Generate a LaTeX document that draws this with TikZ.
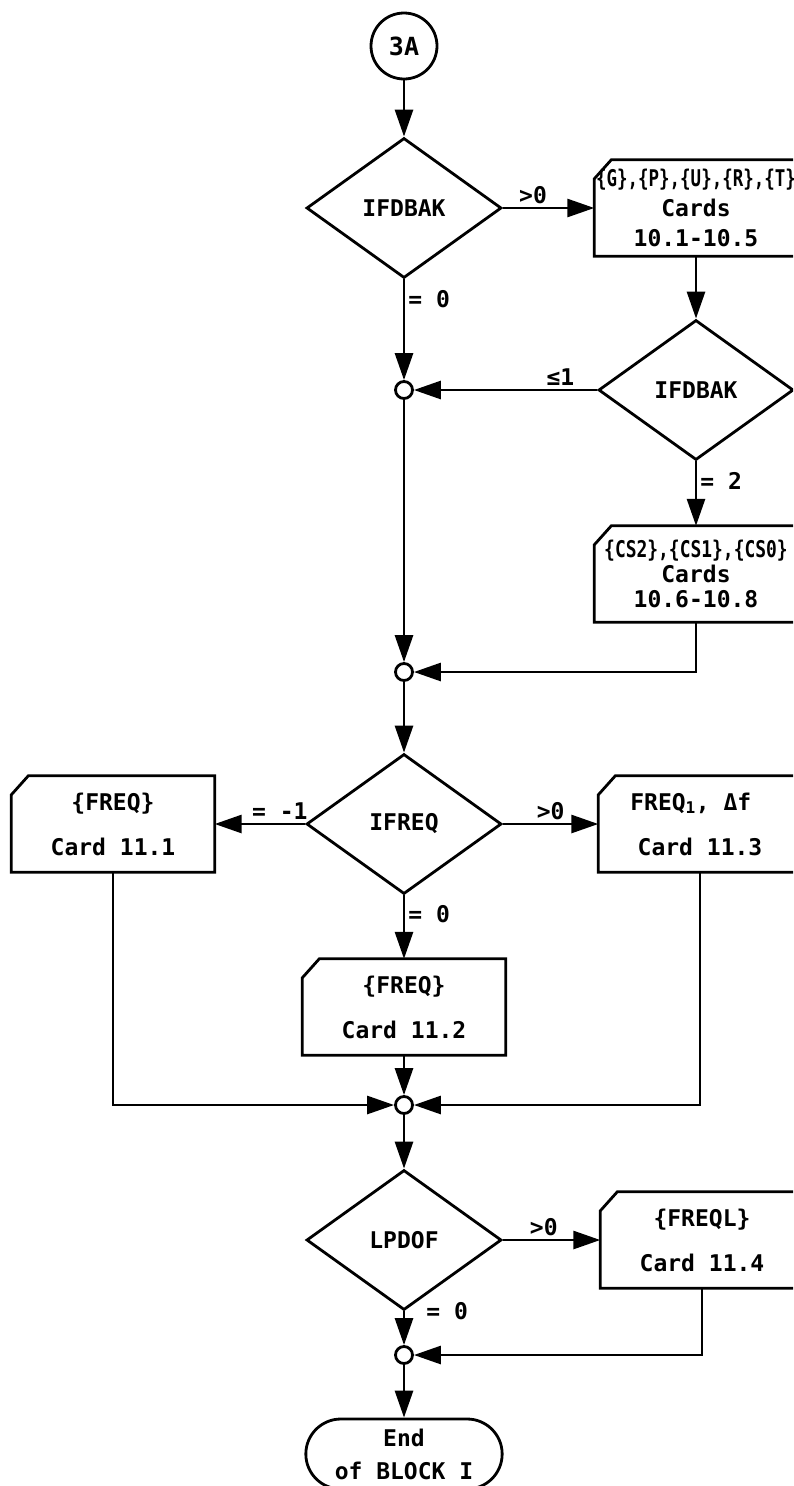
\documentclass[tikz,border=0pt]{standalone}
\usepackage{fontspec}
\usepackage{graphicx}
\setmainfont{DejaVu Sans Mono}
\usetikzlibrary{arrows.meta,shapes.geometric,shapes.misc}

\tikzset{
  wire/.style={line width=2.8pt},
  flow/.style={line width=2.8pt, -{Triangle[length=27pt,width=18pt]}},
  decision/.style={diamond, draw, line width=2.8pt, minimum width=195pt, minimum height=140pt, inner sep=1pt, font=\fontsize{23}{28}\selectfont\bfseries},
  card/.style={minimum width=203pt, minimum height=96pt, inner sep=0pt, align=center, font=\fontsize{23}{45}\selectfont\bfseries},
  joint/.style={circle, draw, fill=white, line width=2.8pt, minimum size=17pt, inner sep=0pt},
  lbl/.style={font=\fontsize{23}{28}\selectfont\bfseries, inner sep=3pt}
}

\begin{document}
\begin{tikzpicture}[x=1pt, y=-1pt]
  \useasboundingbox (0,0) rectangle (793,1486);
  \clip (0,0) rectangle (793,1486);

  \node[circle, draw, line width=2.8pt, minimum size=66pt, font=\fontsize{25}{25}\selectfont\bfseries] (start) at (404,46) {3A};

  \node[decision] (d1) at (404,208) {IFDBAK}; % feedback tests
  \node[card, font=\fontsize{23}{30}\selectfont\bfseries] (c1) at (696,208) {\scalebox{0.76}[1]{\{G\},\{P\},\{U\},\{R\},\{T\}}\\Cards\\10.1-10.5};
  \node[decision] (d2) at (696,390) {IFDBAK};
  \node[joint] (j1) at (404,390) {};
  \node[card, font=\fontsize{23}{25}\selectfont\bfseries] (c2) at (696,574) {\scalebox{0.78}[1]{\{CS2\},\{CS1\},\{CS0\}}\\Cards\\10.6-10.8};
  \node[joint] (j2) at (404,672) {};

  \node[decision] (d3) at (404,824) {IFREQ}; % frequency cards
  \node[card] (f1) at (113,824) {\{FREQ\}\\Card 11.1};
  \node[card] (f2) at (404,1007) {\{FREQ\}\\Card 11.2};
  \node[card] (f3) at (700,824) {FREQ\textsubscript{1}, Δf\hspace*{0.8em}\\Card 11.3};
  \node[joint] (j3) at (404,1105) {};

  \node[decision] (d4) at (404,1240) {LPDOF};
  \node[card] (f4) at (702,1240) {\{FREQL\}\\Card 11.4};
  \node[joint] (j4) at (404,1355) {};
  \node[rounded rectangle, draw, line width=2.8pt, minimum width=203pt, minimum height=70pt, align=center, font=\fontsize{23}{33}\selectfont\bfseries] (stop) at (404,1454) {End\\of BLOCK I};

  % card outlines, corner cut
  \foreach \c in {c1,c2,f1,f2,f3,f4}
    \draw[wire] ([yshift=-19pt]\c.north west) -- ([xshift=17pt]\c.north west) -- (\c.north east) -- (\c.south east) -- (\c.south west) -- cycle;

  \draw[flow] (start) -- (d1.north);
  \draw[flow] (d1.east) -- node[lbl, pos=0.33, above] {>0} (c1.west);
  \draw[flow] (d1.south) -- node[lbl, pos=0.2, right] {= 0} (j1);
  \draw[flow] (c1.south) -- (d2.north);
  \draw[flow] (d2.west) -- node[lbl, pos=0.2, above] {≤1} (j1);
  \draw[flow] (d2.south) -- node[lbl, pos=0.3, right] {= 2} (c2.north);
  \draw[flow] (j1) -- (j2);
  \draw[flow] (c2.south) |- (j2);
  \draw[flow] (j2) -- (d3.north);

  \draw[flow] (d3.west) -- node[lbl, pos=0.28, above] {= -1} (f1.east);
  \draw[flow] (d3.east) -- node[lbl, pos=0.5, above] {>0} (f3.west);
  \draw[flow] (d3.south) -- node[lbl, pos=0.3, right] {= 0} (f2.north);
  \draw[flow] (f1.south) |- (j3);
  \draw[flow] (f2.south) -- (j3);
  \draw[flow] (f3.south) |- (j3);
  \draw[flow] (j3) -- (d4.north);

  \draw[flow] (d4.east) -- node[lbl, pos=0.42, above] {>0} (f4.west);
  \draw[flow] (d4.south) -- node[lbl, pos=0, right=18pt] {= 0} (j4);
  \draw[flow] (f4.south) |- (j4);
  \draw[flow] (j4) -- (stop.north);
\end{tikzpicture}
\end{document}
